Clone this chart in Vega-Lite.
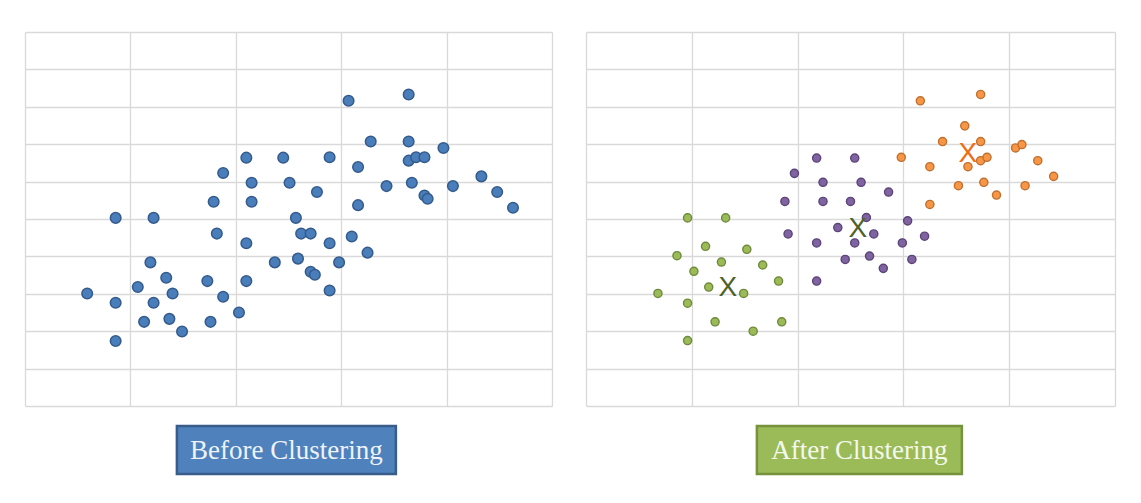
{
  "$schema": "https://vega.github.io/schema/vega-lite/v6.json",
  "background": "white",
  "padding": {"left": 25, "top": 32, "right": 26, "bottom": 31},
  "datasets": {
    "before": [
      {"x": 2.10, "y": 6.64}, {"x": 2.45, "y": 6.64}, {"x": 1.88, "y": 6.23}, {"x": 2.15, "y": 5.97},
      {"x": 2.51, "y": 5.97}, {"x": 1.79, "y": 5.46}, {"x": 2.15, "y": 5.46}, {"x": 0.86, "y": 5.03},
      {"x": 1.22, "y": 5.03}, {"x": 2.57, "y": 5.03}, {"x": 1.82, "y": 4.61}, {"x": 2.10, "y": 4.35},
      {"x": 1.19, "y": 3.84}, {"x": 2.37, "y": 3.84}, {"x": 1.34, "y": 3.43}, {"x": 1.73, "y": 3.34},
      {"x": 2.10, "y": 3.34}, {"x": 1.07, "y": 3.18}, {"x": 0.59, "y": 3.01}, {"x": 1.40, "y": 3.01},
      {"x": 0.86, "y": 2.76}, {"x": 1.22, "y": 2.76}, {"x": 1.88, "y": 2.92}, {"x": 2.03, "y": 2.50},
      {"x": 1.13, "y": 2.25}, {"x": 1.37, "y": 2.33}, {"x": 1.76, "y": 2.25}, {"x": 1.49, "y": 1.99},
      {"x": 0.86, "y": 1.74},
      {"x": 3.07, "y": 8.16}, {"x": 3.64, "y": 8.33}, {"x": 3.28, "y": 7.07}, {"x": 3.64, "y": 7.07},
      {"x": 3.97, "y": 6.90}, {"x": 2.89, "y": 6.65}, {"x": 3.16, "y": 6.39}, {"x": 3.64, "y": 6.56},
      {"x": 3.71, "y": 6.65}, {"x": 3.79, "y": 6.65}, {"x": 4.33, "y": 6.14}, {"x": 2.77, "y": 5.72},
      {"x": 3.43, "y": 5.88}, {"x": 3.67, "y": 5.97}, {"x": 4.06, "y": 5.88}, {"x": 3.79, "y": 5.63},
      {"x": 3.82, "y": 5.54}, {"x": 4.48, "y": 5.72}, {"x": 4.63, "y": 5.30}, {"x": 3.16, "y": 5.37},
      {"x": 2.62, "y": 4.61}, {"x": 2.71, "y": 4.61}, {"x": 2.89, "y": 4.35}, {"x": 3.10, "y": 4.53},
      {"x": 2.59, "y": 3.94}, {"x": 2.98, "y": 3.84}, {"x": 3.25, "y": 4.10}, {"x": 2.71, "y": 3.59},
      {"x": 2.75, "y": 3.51}, {"x": 2.89, "y": 3.09}
    ],
    "after": [
      {"x": 0.96, "y": 5.03, "cluster": "A"}, {"x": 1.32, "y": 5.03, "cluster": "A"},
      {"x": 1.13, "y": 4.27, "cluster": "A"}, {"x": 1.52, "y": 4.19, "cluster": "A"},
      {"x": 0.86, "y": 4.02, "cluster": "A"}, {"x": 1.28, "y": 3.85, "cluster": "A"},
      {"x": 1.02, "y": 3.60, "cluster": "A"}, {"x": 1.67, "y": 3.77, "cluster": "A"},
      {"x": 1.82, "y": 3.34, "cluster": "A"}, {"x": 1.16, "y": 3.18, "cluster": "A"},
      {"x": 1.49, "y": 3.01, "cluster": "A"}, {"x": 0.68, "y": 3.01, "cluster": "A"},
      {"x": 0.96, "y": 2.75, "cluster": "A"}, {"x": 1.22, "y": 2.25, "cluster": "A"},
      {"x": 1.85, "y": 2.25, "cluster": "A"}, {"x": 1.58, "y": 2.00, "cluster": "A"},
      {"x": 0.96, "y": 1.75, "cluster": "A"},
      {"x": 2.18, "y": 6.63, "cluster": "B"}, {"x": 2.54, "y": 6.63, "cluster": "B"},
      {"x": 1.97, "y": 6.22, "cluster": "B"}, {"x": 2.24, "y": 5.98, "cluster": "B"},
      {"x": 2.60, "y": 5.98, "cluster": "B"}, {"x": 2.86, "y": 5.72, "cluster": "B"},
      {"x": 1.88, "y": 5.47, "cluster": "B"}, {"x": 2.24, "y": 5.47, "cluster": "B"},
      {"x": 2.50, "y": 5.47, "cluster": "B"}, {"x": 2.65, "y": 5.04, "cluster": "B"},
      {"x": 2.38, "y": 4.77, "cluster": "B"}, {"x": 2.72, "y": 4.60, "cluster": "B"},
      {"x": 3.04, "y": 4.95, "cluster": "B"}, {"x": 1.91, "y": 4.60, "cluster": "B"},
      {"x": 2.18, "y": 4.36, "cluster": "B"}, {"x": 2.54, "y": 4.36, "cluster": "B"},
      {"x": 2.99, "y": 4.36, "cluster": "B"}, {"x": 3.20, "y": 4.54, "cluster": "B"},
      {"x": 2.45, "y": 3.92, "cluster": "B"}, {"x": 2.68, "y": 4.01, "cluster": "B"},
      {"x": 2.81, "y": 3.68, "cluster": "B"}, {"x": 3.08, "y": 3.92, "cluster": "B"},
      {"x": 2.18, "y": 3.34, "cluster": "B"},
      {"x": 3.16, "y": 8.16, "cluster": "C"}, {"x": 3.73, "y": 8.33, "cluster": "C"},
      {"x": 3.58, "y": 7.49, "cluster": "C"}, {"x": 3.37, "y": 7.07, "cluster": "C"},
      {"x": 3.73, "y": 7.07, "cluster": "C"}, {"x": 2.98, "y": 6.65, "cluster": "C"},
      {"x": 3.25, "y": 6.40, "cluster": "C"}, {"x": 3.61, "y": 6.40, "cluster": "C"},
      {"x": 3.73, "y": 6.56, "cluster": "C"}, {"x": 3.79, "y": 6.65, "cluster": "C"},
      {"x": 4.06, "y": 6.90, "cluster": "C"}, {"x": 4.12, "y": 6.99, "cluster": "C"},
      {"x": 4.27, "y": 6.56, "cluster": "C"}, {"x": 4.42, "y": 6.14, "cluster": "C"},
      {"x": 3.52, "y": 5.89, "cluster": "C"}, {"x": 3.76, "y": 5.98, "cluster": "C"},
      {"x": 3.88, "y": 5.64, "cluster": "C"}, {"x": 4.15, "y": 5.89, "cluster": "C"},
      {"x": 3.25, "y": 5.39, "cluster": "C"}
    ],
    "centroids": [
      {"x": 1.34, "y": 3.19, "cluster": "A", "label": "X"},
      {"x": 2.57, "y": 4.77, "cluster": "B", "label": "X"},
      {"x": 3.61, "y": 6.77, "cluster": "C", "label": "X"}
    ]
  },
  "vconcat": [
    {
      "hconcat": [
        {
          "width": 527,
          "height": 374,
          "view": {"stroke": null},
          "data": {"name": "before"},
          "mark": {"type": "circle", "size": 112, "opacity": 1, "fill": "#4a7ebb", "stroke": "#345b8c", "strokeWidth": 1.5},
          "encoding": {
            "x": {"field": "x", "type": "quantitative", "scale": {"domain": [0, 5], "nice": false, "zero": false}, "axis": {"values": [0, 1, 2, 3, 4, 5]}},
            "y": {"field": "y", "type": "quantitative", "scale": {"domain": [0, 10], "nice": false, "zero": false}, "axis": {"values": [0, 1, 2, 3, 4, 5, 6, 7, 8, 9, 10]}}
          }
        },
        {
          "width": 529,
          "height": 374,
          "view": {"stroke": null},
          "encoding": {
            "x": {"field": "x", "type": "quantitative", "scale": {"domain": [0, 5], "nice": false, "zero": false}, "axis": {"values": [0, 1, 2, 3, 4, 5]}},
            "y": {"field": "y", "type": "quantitative", "scale": {"domain": [0, 10], "nice": false, "zero": false}, "axis": {"values": [0, 1, 2, 3, 4, 5, 6, 7, 8, 9, 10]}}
          },
          "layer": [
            {
              "data": {"name": "after"},
              "mark": {"type": "circle", "size": 66, "opacity": 1, "strokeWidth": 1.4},
              "encoding": {
                "fill": {"field": "cluster", "type": "nominal", "scale": {"domain": ["A", "B", "C"], "range": ["#9bbb59", "#8064a2", "#f79646"]}, "legend": null},
                "stroke": {"field": "cluster", "type": "nominal", "scale": {"domain": ["A", "B", "C"], "range": ["#6f8a3a", "#5a4478", "#c0702f"]}, "legend": null}
              }
            },
            {
              "data": {"name": "centroids"},
              "mark": {"type": "text", "font": "Liberation Sans", "fontSize": 28, "align": "center", "baseline": "middle", "dy": 1},
              "encoding": {
                "text": {"field": "label"},
                "color": {"field": "cluster", "type": "nominal", "scale": {"domain": ["A", "B", "C"], "range": ["#4f6228", "#4f6228", "#ed6d12"]}, "legend": null}
              }
            }
          ],
          "resolve": {"scale": {"color": "independent"}}
        }
      ],
      "spacing": 34
    },
    {
      "hconcat": [
        {
          "width": 219,
          "height": 48,
          "view": {"fill": "#4f81bd", "stroke": "#385d8a", "strokeWidth": 2.5},
          "data": {"values": [{"label": "Before Clustering"}]},
          "mark": {"type": "text", "font": "Liberation Serif", "fontSize": 27, "color": "#eef3fa", "align": "center", "baseline": "middle", "dy": 1},
          "encoding": {"text": {"field": "label"}}
        },
        {
          "width": 205,
          "height": 48,
          "view": {"fill": "#9bbb59", "stroke": "#76923c", "strokeWidth": 2.5},
          "data": {"values": [{"label": "After Clustering"}]},
          "mark": {"type": "text", "font": "Liberation Serif", "fontSize": 27, "color": "#f4f8ec", "align": "center", "baseline": "middle", "dy": 1},
          "encoding": {"text": {"field": "label"}}
        }
      ],
      "spacing": 357
    }
  ],
  "spacing": 18,
  "center": true,
  "config": {
    "axis": {
      "labels": false,
      "ticks": false,
      "domain": false,
      "title": null,
      "grid": true,
      "gridColor": "#d9d9d9",
      "gridWidth": 1.3,
      "gridOpacity": 1,
      "minExtent": 0,
      "maxExtent": 0
    }
  }
}
